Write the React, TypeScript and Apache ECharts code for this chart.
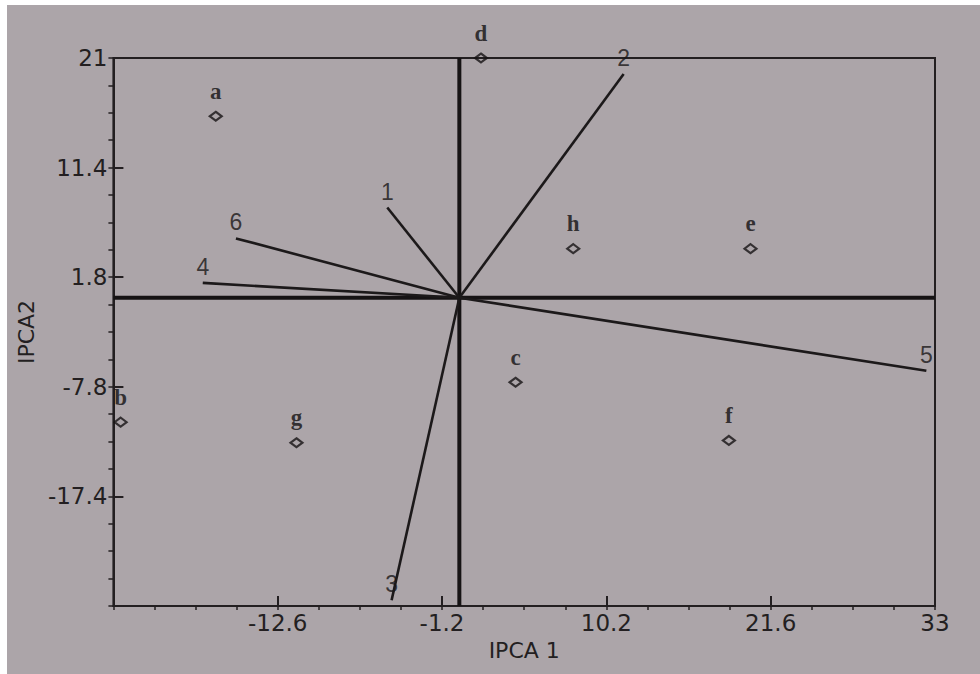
import React, { useEffect, useRef } from "react";
import * as echarts from "echarts";

// Genotype scores (points)
const genotypes = ["a", "b", "c", "d", "e", "f", "g", "h"];
const genoIpca1 = [-16.9, -23.5, 3.9, 1.5, 20.2, 18.7, -11.3, 7.9];
const genoIpca2 = [15.9, -10.9, -7.4, 21.0, 4.3, -12.5, -12.7, 4.3];

// Environment vectors (lines from origin)
const envNames = ["1", "2", "3", "4", "5", "6"];
const envIpca1 = [-5.0, 11.4, -4.7, -17.8, 32.4, -15.5];
const envIpca2 = [7.9, 19.6, -26.5, 1.3, -6.4, 5.2];

const origin = [0, 0];

// Axes
const xMin = -24;
const xMax = 33;
const yMin = -27;
const yMax = 21;
const xTickValues = [-24, -12.6, -1.2, 10.2, 21.6, 33];
const xTickLabels = [-12.6, -1.2, 10.2, 21.6, 33];
const yTickValues = [-27, -17.4, -7.8, 1.8, 11.4, 21];
const yTickLabels = [-17.4, -7.8, 1.8, 11.4, 21];
const minorSplits = 4;

function withMinor(majors: number[]): number[] {
  const out: number[] = [];
  for (let i = 0; i < majors.length; i++) {
    out.push(majors[i]);
    if (i < majors.length - 1) {
      const step = (majors[i + 1] - majors[i]) / minorSplits;
      for (let k = 1; k < minorSplits; k++) {
        out.push(+(majors[i] + step * k).toFixed(4));
      }
    }
  }
  return out;
}

const INK = "#231f21";
const TICK_FONT = "DejaVu Sans";

export default function App() {
  const ref = useRef<HTMLDivElement>(null);

  useEffect(() => {
    if (!ref.current) return;
    const chart = echarts.init(ref.current, null, { renderer: "svg" });

    const vectorSeries = envNames.map((name, i) => ({
      type: "line",
      name: "env" + name,
      xAxisIndex: 0,
      yAxisIndex: 0,
      data: [origin, [envIpca1[i], envIpca2[i]]],
      symbol: "none",
      lineStyle: { color: "#1c191a", width: 2.6 },
      silent: true,
      z: 3,
    }));

    const option: any = {
      animation: false,
      backgroundColor: "#aca5a9",
      grid: {
        left: 103,
        top: 53,
        right: 45,
        bottom: 68,
        show: true,
        borderColor: INK,
        borderWidth: 2,
        backgroundColor: "transparent",
      },
      xAxis: [
        {
          type: "value",
          min: xMin,
          max: xMax,
          position: "bottom",
          name: "IPCA 1",
          nameLocation: "middle",
          nameGap: 33,
          nameTextStyle: { fontFamily: TICK_FONT, fontSize: 22, color: INK },
          axisLine: { show: true, onZero: false, lineStyle: { color: INK, width: 2 } },
          axisTick: {
            show: true,
            inside: true,
            length: 10,
            customValues: xTickValues,
            lineStyle: { color: INK, width: 2 },
          },
          axisLabel: {
            show: true,
            customValues: xTickLabels,
            margin: 5,
            fontFamily: TICK_FONT,
            fontSize: 23,
            color: INK,
            showMinLabel: true,
            showMaxLabel: true,
          },
          splitLine: { show: false },
        },
        {
          type: "value",
          min: xMin,
          max: xMax,
          position: "bottom",
          axisLine: { show: false, onZero: false },
          axisTick: {
            show: true,
            inside: false,
            length: 4,
            customValues: withMinor(xTickValues),
            lineStyle: { color: INK, width: 1.5 },
          },
          axisLabel: { show: false },
          splitLine: { show: false },
        },
      ],
      yAxis: [
        {
          type: "value",
          min: yMin,
          max: yMax,
          position: "left",
          name: "IPCA2",
          nameLocation: "middle",
          nameGap: 58,
          nameRotate: 90,
          nameTextStyle: { fontFamily: TICK_FONT, fontSize: 22, color: INK },
          axisLine: { show: true, onZero: false, lineStyle: { color: INK, width: 2 } },
          axisTick: {
            show: true,
            inside: true,
            length: 10,
            customValues: yTickValues,
            lineStyle: { color: INK, width: 2 },
          },
          axisLabel: {
            show: true,
            customValues: yTickLabels,
            margin: 6,
            fontFamily: TICK_FONT,
            fontSize: 23,
            color: INK,
          },
          splitLine: { show: false },
        },
        {
          type: "value",
          min: yMin,
          max: yMax,
          position: "left",
          axisLine: { show: false, onZero: false },
          axisTick: {
            show: true,
            inside: false,
            length: 5,
            customValues: withMinor(yTickValues),
            lineStyle: { color: INK, width: 1.5 },
          },
          axisLabel: { show: false },
          splitLine: { show: false },
        },
      ],
      series: [
        {
          type: "line",
          name: "vaxis",
          data: [
            [origin[0], yMin],
            [origin[0], yMax],
          ],
          symbol: "none",
          lineStyle: { color: "#161314", width: 4 },
          silent: true,
          z: 2,
        },
        {
          type: "line",
          name: "haxis",
          data: [
            [xMin, origin[1]],
            [xMax, origin[1]],
          ],
          symbol: "none",
          lineStyle: { color: "#161314", width: 4 },
          silent: true,
          z: 2,
        },
        ...vectorSeries,
        {
          type: "scatter",
          name: "envLabels",
          data: envNames.map((n, i) => ({ name: n, value: [envIpca1[i], envIpca2[i]] })),
          symbol: "circle",
          symbolSize: 1,
          itemStyle: { color: "transparent" },
          clip: false,
          label: {
            show: true,
            position: "top",
            distance: 4,
            formatter: (p: any) => p.name,
            fontFamily: "Liberation Sans",
            fontSize: 23,
            color: "#1a1718",
          },
          z: 4,
        },
        {
          type: "scatter",
          name: "genotypes",
          data: genotypes.map((n, i) => ({ name: n, value: [genoIpca1[i], genoIpca2[i]] })),
          symbol: "diamond",
          symbolSize: [12, 9],
          clip: false,
          itemStyle: { color: "transparent", borderColor: "#161314", borderWidth: 2.2 },
          label: {
            show: true,
            position: "top",
            distance: 8,
            formatter: (p: any) => p.name,
            fontFamily: "Liberation Serif",
            fontWeight: "bold",
            fontSize: 23,
            color: "#121011",
          },
          z: 5,
        },
      ],
    };

    chart.setOption(option);
    return () => {
      chart.dispose();
    };
  }, []);

  return (
    <div
      style={{
        position: "fixed",
        left: 0,
        top: 0,
        width: 980,
        height: 674,
        background: "#ffffff",
        overflow: "hidden",
      }}
    >
      <div
        ref={ref}
        style={{ position: "absolute", left: 7, top: 5, width: 973, height: 669 }}
      />
    </div>
  );
}
